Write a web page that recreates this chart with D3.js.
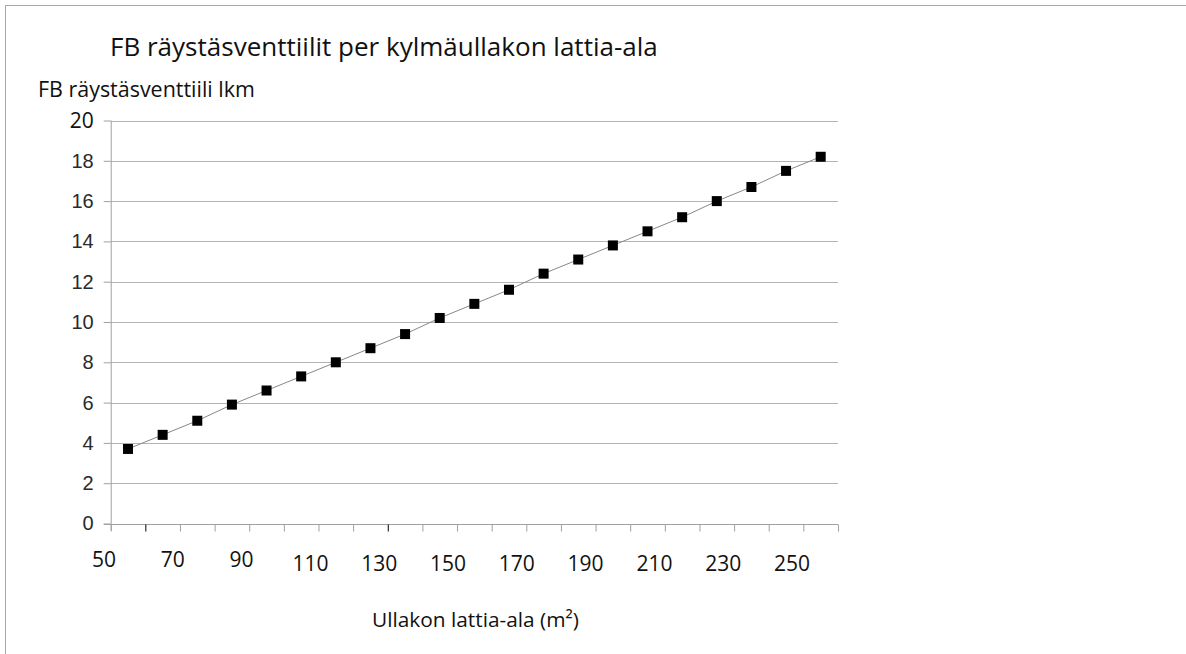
<!DOCTYPE html>
<html>
<head>
<meta charset="utf-8">
<script src="https://cdn.jsdelivr.net/npm/d3@7"></script>
<style>
  body { margin: 0; background: #fff; }
  svg { display: block; }
</style>
</head>
<body>
<svg id="chart" width="1186" height="654"></svg>
<script>
// values
var areas = [55, 65, 75, 85, 95, 105, 115, 125, 135, 145, 155, 165, 175, 185, 195, 205, 215, 225, 235, 245, 255];
var valves = [3.7, 4.4, 5.1, 5.9, 6.6, 7.3, 8.0, 8.7, 9.4, 10.2, 10.9, 11.6, 12.4, 13.1, 13.8, 14.5, 15.2, 16.0, 16.7, 17.5, 18.2];
var yTicks = [0, 2, 4, 6, 8, 10, 12, 14, 16, 18, 20];
var xTicks = [50, 60, 70, 80, 90, 100, 110, 120, 130, 140, 150, 160, 170, 180, 190, 200, 210, 220, 230, 240, 250, 260];
var xLabels = ['50', '70', '90', '110', '130', '150', '170', '190', '210', '230', '250'];

var titleText = 'FB räystäsventtiilit per kylmäullakon lattia-ala';
var yTitleText = 'FB räystäsventtiili lkm';
var xTitleText = 'Ullakon lattia-ala (m²)';

var svg = d3.select('#chart');
var font = '"Open Sans", "DejaVu Sans", sans-serif';

// plot box (window.top is taken, so plotTop etc)
var plotLeft = 110.7, plotRight = 838, plotTop = 120.5, plotBottom = 523.5;

var x = d3.scaleLinear().domain([50, 260]).range([plotLeft, plotRight]);
var y = d3.scaleLinear().domain([0, 20]).range([plotBottom, plotTop]);
// the category labels sit on their own even spacing, not on the ticks
var xl = d3.scalePoint().domain(xLabels).range([104, 792]);

// outer frame
svg.append('rect')
    .attr('x', 5.5).attr('y', 5.5)
    .attr('width', 1186).attr('height', 660)
    .attr('fill', 'none').attr('stroke', '#a8a8a8');

// fit text to a width
function fit(sel, w) {
    var len = sel.node().getComputedTextLength();
    var fs = parseFloat(sel.attr('font-size'));
    sel.attr('font-size', fs * w / len);
}

// gridlines
svg.append('g').selectAll('line')
    .data(yTicks.slice(1))
    .join('line')
    .attr('x1', plotLeft).attr('x2', plotRight)
    .attr('y1', function(d){ return Math.round(y(d)) + 0.5; })
    .attr('y2', function(d){ return Math.round(y(d)) + 0.5; })
    .attr('stroke', '#b4b4b4');

// y axis
var yAxis = svg.append('g')
    .attr('transform', 'translate(' + plotLeft + ',0)')
    .call(d3.axisLeft(y).tickValues(yTicks).tickSize(7).tickPadding(10).tickFormat(d3.format('d')));
yAxis.select('.domain').attr('stroke', '#a0a0a0').attr('d', 'M0.5,' + plotTop + 'V' + (plotBottom + 7));
yAxis.selectAll('.tick line').attr('stroke', '#a0a0a0');
yAxis.selectAll('.tick text')
    .attr('font-family', function(d){ return d === 20 ? font : '"Liberation Sans", Arial, sans-serif'; })
    .attr('font-size', function(d){ return d === 20 ? 21 : 20; })
    .attr('fill', function(d){ return d === 20 ? '#111' : '#2a2a2a'; });

// x axis
var xAxis = svg.append('g')
    .attr('transform', 'translate(0,' + (Math.round(plotBottom) + 0.5) + ')')
    .call(d3.axisBottom(x).tickValues(xTicks).tickSize(7).tickFormat(''));
xAxis.select('.domain').attr('stroke', '#a0a0a0').attr('d', 'M' + (plotLeft - 7) + ',0H' + plotRight);
xAxis.selectAll('.tick line')
    .attr('stroke', function(d){ return d === 60 || d === 130 ? '#000' : '#a0a0a0'; });

svg.append('g').selectAll('text')
    .data(xLabels)
    .join('text')
    .attr('x', function(d){ return xl(d); })
    .attr('y', function(d, i){ return i < 3 ? 567 : 571; })
    .attr('text-anchor', 'middle')
    .attr('font-family', font)
    .attr('font-size', 21)
    .attr('fill', '#111')
    .text(function(d){ return d; });

// series line and markers
var line = d3.line()
    .x(function(d, i){ return x(areas[i]); })
    .y(function(d){ return y(d); });

svg.append('path')
    .datum(valves)
    .attr('d', line)
    .attr('fill', 'none')
    .attr('stroke', '#888')
    .attr('stroke-width', 1);

svg.append('g').selectAll('rect')
    .data(valves)
    .join('rect')
    .attr('x', function(d, i){ return x(areas[i]) - 5; })
    .attr('y', function(d){ return y(d) - 5; })
    .attr('width', 10).attr('height', 10)
    .attr('fill', '#000');

// titles
var title = svg.append('text')
    .attr('x', 110).attr('y', 56)
    .attr('font-family', font).attr('font-size', 22)
    .attr('fill', '#111')
    .text(titleText);
fit(title, 548);

var yTitle = svg.append('text')
    .attr('x', 38).attr('y', 97)
    .attr('font-family', font).attr('font-size', 17)
    .attr('fill', '#111')
    .text(yTitleText);
fit(yTitle, 217);

var xTitle = svg.append('text')
    .attr('x', 372).attr('y', 627)
    .attr('font-family', font).attr('font-size', 19)
    .attr('fill', '#111')
    .text(xTitleText);
fit(xTitle, 207);
</script>
</body>
</html>
